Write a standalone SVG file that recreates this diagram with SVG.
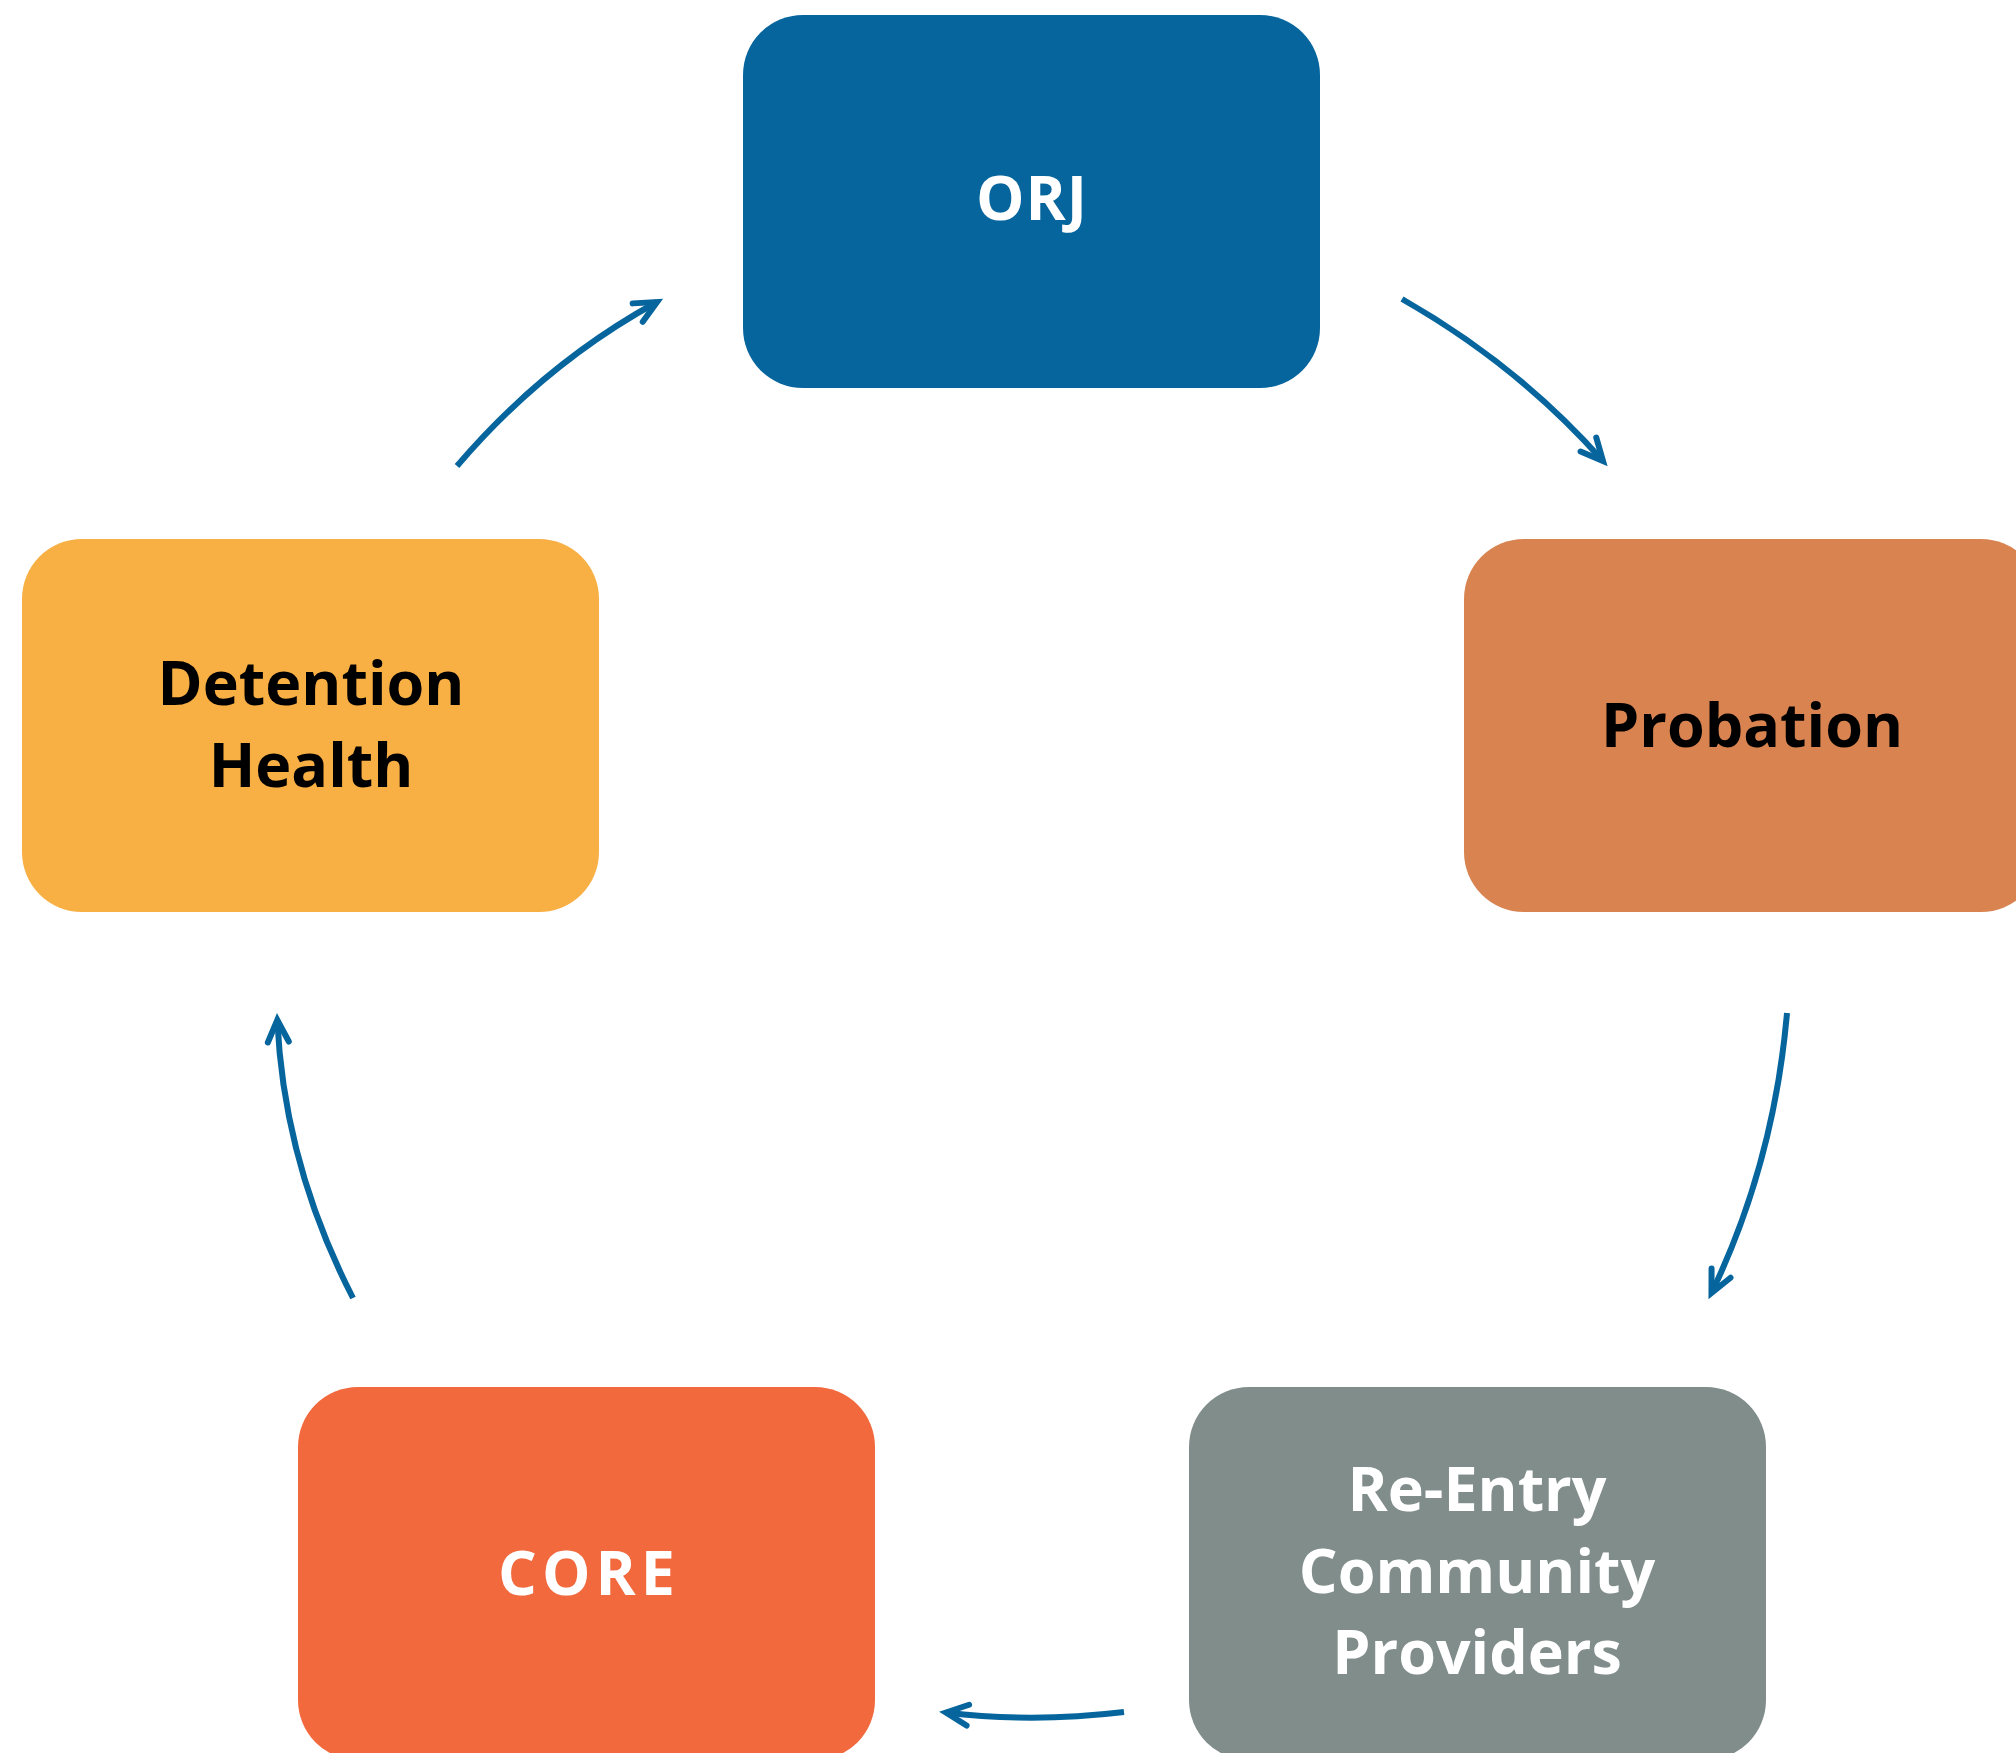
<svg xmlns="http://www.w3.org/2000/svg" width="2016" height="1753" viewBox="0 0 2016 1753">
<style>
  .box { stroke: none; }
  .lbl { font-family: "Open Sans", "Noto Sans", "Liberation Sans", sans-serif; font-weight: 700; font-size: 61px; text-anchor: middle; }
  .light { fill: #ffffff; }
  .dark { fill: #000000; }
  .conn { fill: none; stroke: #07659D; stroke-width: 6; }
</style>
<defs>
  <marker id="arrow" markerUnits="userSpaceOnUse" orient="auto" refX="0" refY="0" markerWidth="60" markerHeight="60" viewBox="-40 -30 60 60" overflow="visible">
    <path d="M-22,-10.5 L0,0 L-22,10.5" fill="none" stroke="#07659D" stroke-width="6" stroke-linecap="round" stroke-linejoin="miter" stroke-miterlimit="10"/>
  </marker>
</defs>
<rect width="2016" height="1753" fill="#ffffff"/>
<g id="node-orj">
  <rect class="box" x="743" y="15" width="577" height="373" rx="60" ry="60" fill="#07659D"/>
  <text class="lbl light" x="1032" y="220" letter-spacing="1">ORJ</text>
</g>
<g id="node-probation">
  <rect class="box" x="1464" y="539" width="577" height="373" rx="60" ry="60" fill="#D88350"/>
  <text class="lbl dark" x="1752" y="747">Probation</text>
</g>
<g id="node-detention">
  <rect class="box" x="22" y="539" width="577" height="373" rx="60" ry="60" fill="#F8AF43"/>
  <text class="lbl dark" x="311" y="705">Detention</text>
  <text class="lbl dark" x="311" y="787">Health</text>
</g>
<g id="node-reentry">
  <rect class="box" x="1189" y="1387" width="577" height="373" rx="60" ry="60" fill="#808D8B"/>
  <text class="lbl light" x="1477" y="1511">Re-Entry</text>
  <text class="lbl light" x="1477" y="1593">Community</text>
  <text class="lbl light" x="1477" y="1674">Providers</text>
</g>
<g id="node-core">
  <rect class="box" x="298" y="1387" width="577" height="373" rx="60" ry="60" fill="#F1693D"/>
  <text class="lbl light" x="589" y="1595" letter-spacing="5">CORE</text>
</g>
<g id="connectors">
  <path class="conn" d="M1402,299 Q1518,365 1603,461" marker-end="url(#arrow)"/>
  <path class="conn" d="M1787,1013 Q1774,1163 1711.5,1293" marker-end="url(#arrow)"/>
  <path class="conn" d="M1124,1712 Q1032,1723 946,1712.5" marker-end="url(#arrow)"/>
  <path class="conn" d="M353,1298 Q284,1164 277.3,1020" marker-end="url(#arrow)"/>
  <path class="conn" d="M457,466 Q544,364 657,302" marker-end="url(#arrow)"/>
</g>
</svg>
